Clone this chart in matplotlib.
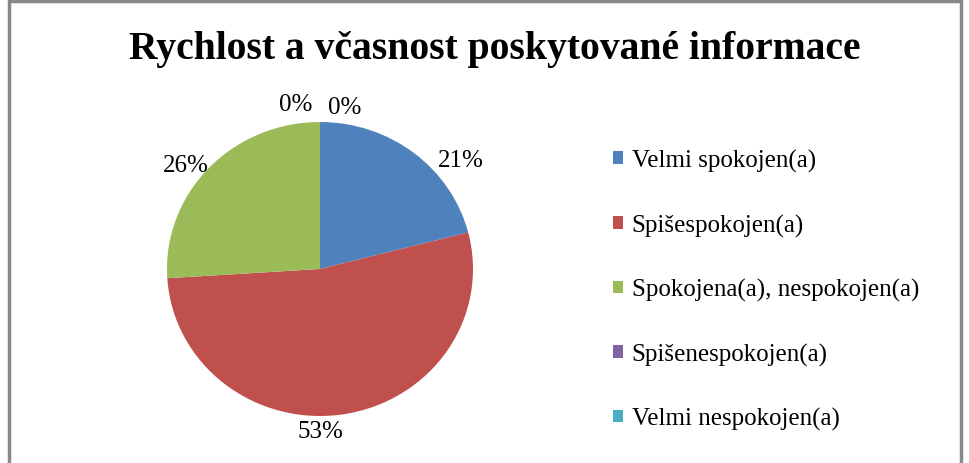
import matplotlib.pyplot as plt
from matplotlib.patches import Patch, Rectangle

categories = ['Velmi spokojen(a)', 'Spišespokojen(a)', 'Spokojena(a), nespokojen(a)',
              'Spišenespokojen(a)', 'Velmi nespokojen(a)']
values = [21, 53, 26, 0, 0]
colors = ['#4F81BD', '#C0504D', '#9BBB59', '#8064A2', '#4BACC6']
title = 'Rychlost a včasnost poskytované informace'

plt.rcParams['font.family'] = ['Liberation Serif', 'DejaVu Serif']

fig = plt.figure(figsize=(9.69, 4.64), dpi=100)
W, H = 969, 464

# gray outer frame
fig.patches.append(Rectangle((9 / W, -0.05), 952 / W, 1.05 - 2 / H, transform=fig.transFigure,
                             fill=False, edgecolor='#888888', linewidth=2.5))

fig.text(495 / W, 1 - 50 / H, title, ha='center', va='center', fontsize=28.5, fontweight='bold')

# pie, centre at (320, 270) px, slightly wider than tall like the original
RX, RY = 153, 147
ax = fig.add_axes([(320 - RX) / W, (H - 270 - RY) / H, 2 * RX / W, 2 * RY / H])
wedges, texts = ax.pie(values, colors=colors, startangle=90, counterclock=False,
                       labels=[f'{v}%' for v in values], labeldistance=1.16,
                       textprops=dict(fontsize=18))
ax.set_xlim(-1, 1)
ax.set_ylim(-1, 1)
ax.set_aspect('auto')
for t in texts:
    t.set_ha('center')
    t.set_va('center')

# excel-style "best fit" label placement
texts[0].set_position((0.92, 0.74))
texts[1].set_position((0, -1.10))
texts[2].set_position((-0.88, 0.71))
texts[3].set_position((-0.16, 1.12))
texts[4].set_position((0.16, 1.10))

handles = [Patch(facecolor=c, edgecolor='none') for c in colors]
fig.legend(handles, categories, loc='upper left', bbox_to_anchor=(603 / W, 1 - 140 / H),
           frameon=False, fontsize=18, labelspacing=1.66, handlelength=0.4,
           handleheight=0.4, handletextpad=0.35, borderaxespad=0)

fig.savefig('out.png', dpi=100)
